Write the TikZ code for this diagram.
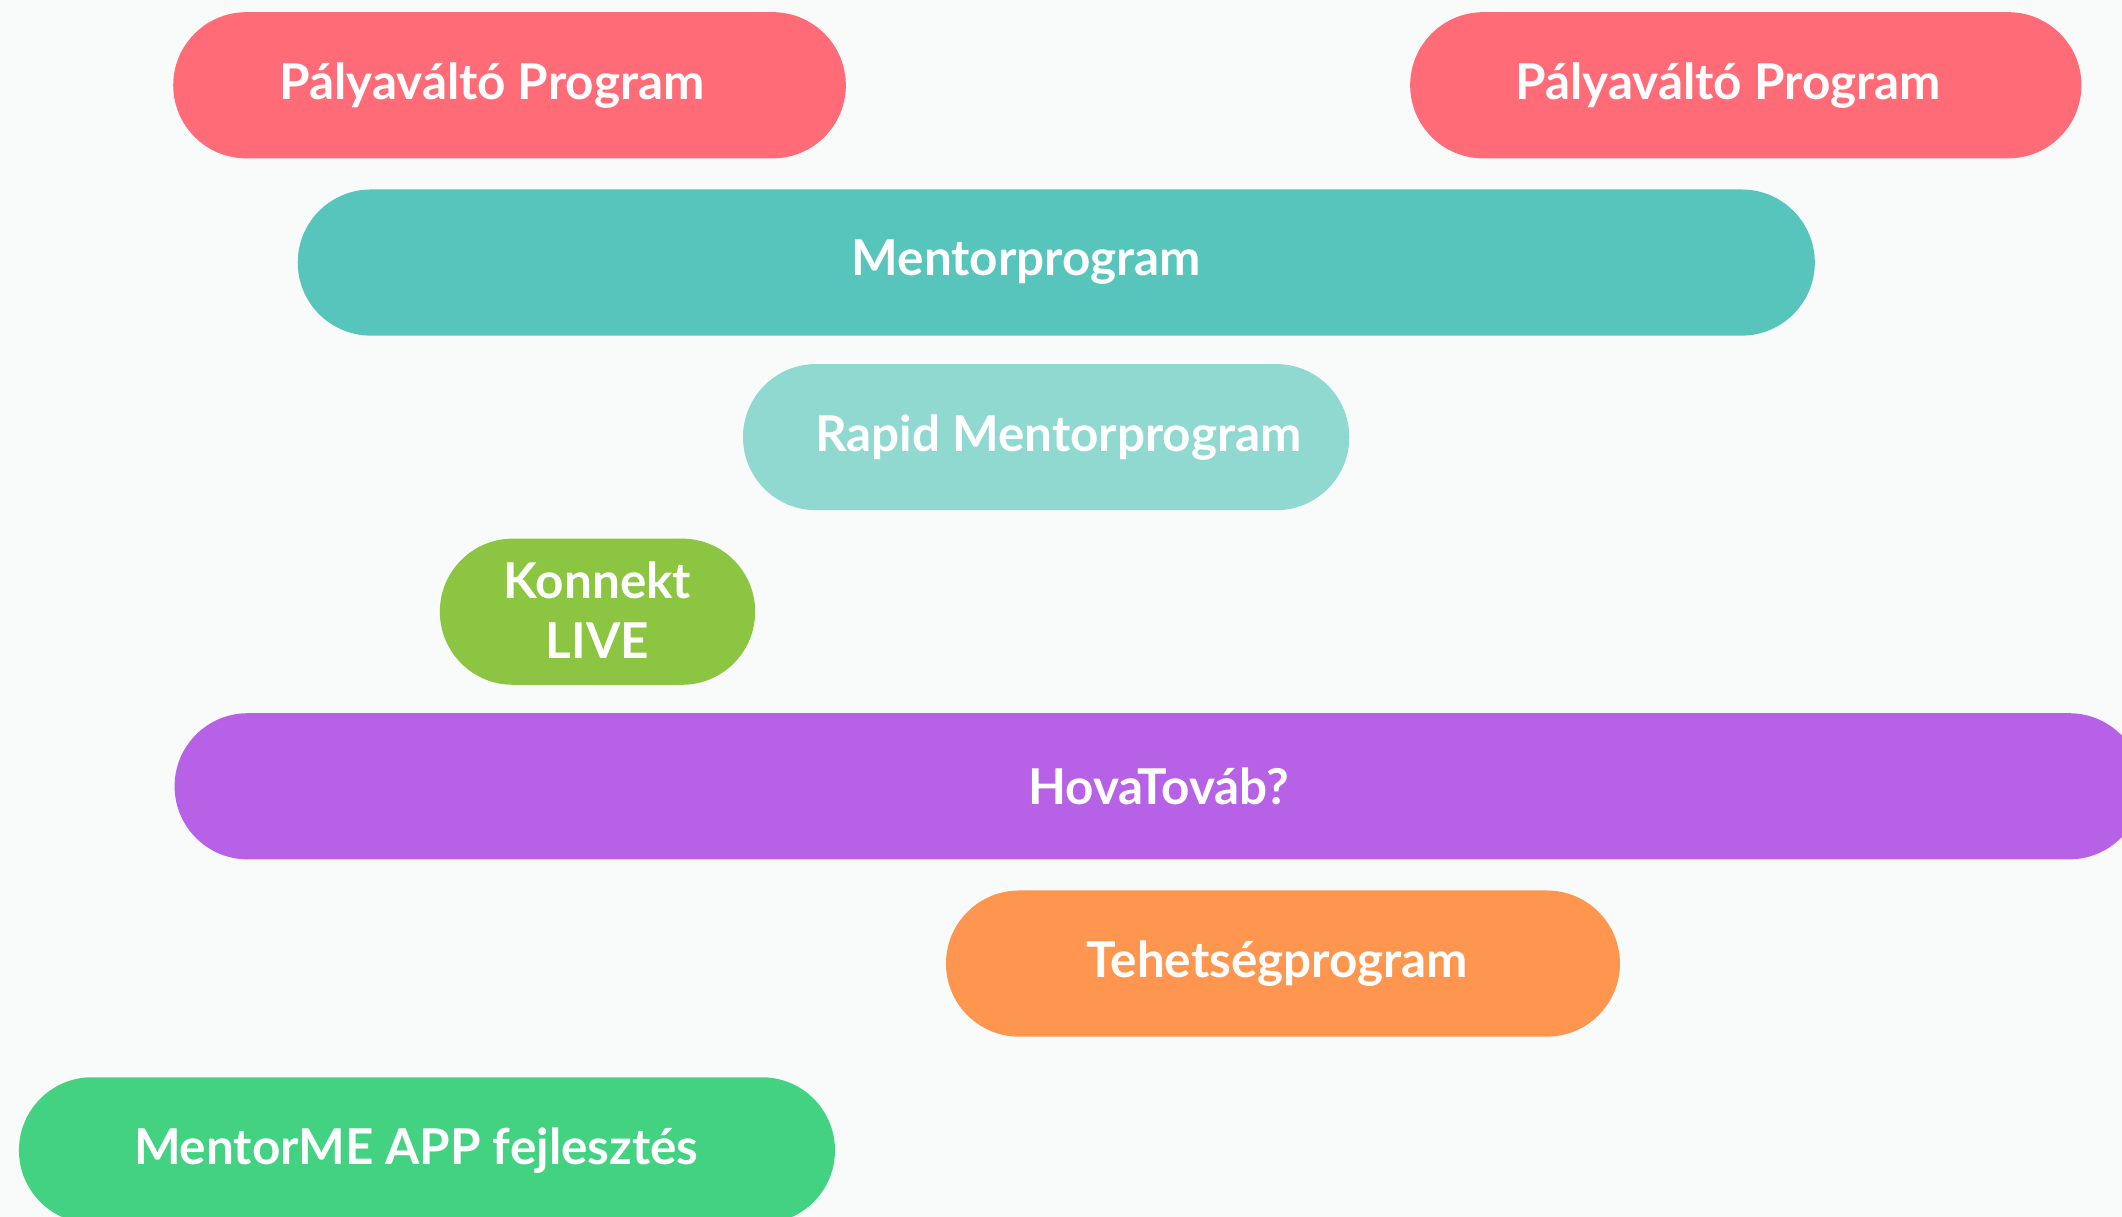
\documentclass[tikz,border=0pt]{standalone}
\usepackage{fontspec}
\setmainfont{Lato}[BoldFont={Lato Bold}]
\definecolor{bgpaper}{HTML}{F9FBFA}
\definecolor{pvred}{HTML}{FF6B76}
\definecolor{mpteal}{HTML}{57C5BC}
\definecolor{rapidteal}{HTML}{8FD9D1}
\definecolor{konnektgreen}{HTML}{8BC542}
\definecolor{hovapurple}{HTML}{B762E6}
\definecolor{tehetorange}{HTML}{FF9650}
\definecolor{appgreen}{HTML}{43D282}
\tikzset{
  bar/.style={rectangle,rounded corners=54pt,minimum height=108pt,inner sep=0pt},
  lbl/.style={text=white,font=\bfseries\fontsize{36.5}{44}\selectfont,align=center,inner sep=0pt}
}
\begin{document}
\begin{tikzpicture}[x=1pt,y=1pt]
\useasboundingbox (0,0) rectangle (1568,-899);
\clip (0,0) rectangle (1568,-899);
\fill[bgpaper] (0,0) rectangle (1568,-899);

% career change, twice
\node[bar,fill=pvred,minimum width=497pt] (pv1) at (376.5,-63) {};
\node[lbl] (pv1text) at ([xshift=-13pt]pv1.center) {Pályaváltó Program};
\node[bar,fill=pvred,minimum width=496pt] (pv2) at (1290,-63) {};
\node[lbl] (pv2text) at ([xshift=-13pt]pv2.center) {Pályaváltó Program};

\node[bar,fill=mpteal,minimum width=1121pt] (mp) at (780.5,-194) {};
\node[lbl] (mptext) at ([xshift=-22pt]mp.center) {Mentorprogram};

\node[bar,fill=rapidteal,minimum width=448pt] (rapid) at (773,-323) {};
\node[lbl] (rapidtext) at ([xshift=9pt]rapid.center) {Rapid Mentorprogram};

\node[bar,fill=konnektgreen,minimum width=233pt] (konnekt) at (441.5,-452) {};
\node[lbl] (konnekttext) at ([yshift=1pt]konnekt.center) {Konnekt\\LIVE};

% runs off the right edge
\node[bar,fill=hovapurple,minimum width=1454pt] (hova) at (856,-581) {};
\node[lbl] (hovatext) at (hova.center) {HovaTováb?};

\node[bar,fill=tehetorange,minimum width=498pt] (tehet) at (948,-712) {};
\node[lbl] (tehettext) at ([xshift=-4pt]tehet.center) {Tehetségprogram};

% runs off the bottom edge
\node[bar,fill=appgreen,minimum width=603pt] (app) at (315.5,-850) {};
\node[lbl] (apptext) at ([xshift=-8pt]app.center) {MentorME APP fejlesztés};
\end{tikzpicture}
\end{document}
